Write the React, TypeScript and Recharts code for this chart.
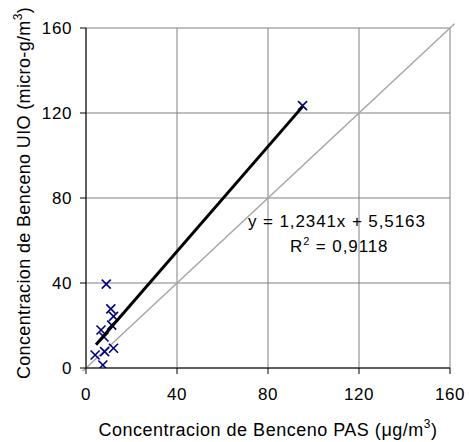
import React from 'react';
import { ScatterChart, Scatter, XAxis, YAxis, CartesianGrid, ReferenceLine, Label } from 'recharts';

const pasX = [8.9, 10.9, 12.1, 11.3, 7.9, 6.6, 4.0, 8.2, 12.1, 7.4, 95.2];
const uioY = [39.5, 27.8, 24.3, 20.2, 14.6, 17.9, 6.1, 7.7, 9.3, 1.4, 123.5];
const axisTicks = [0, 40, 80, 120, 160];
const slope = 1.2341;
const intercept = 5.5163;
const r2 = 0.9118;
const fitRangeX = [4.4, 95.2];
const identityRange = [-1.5, 162];

const points = pasX.map((x, i) => ({ x, y: uioY[i] }));
const fitLine = fitRangeX.map((x) => ({ x, y: slope * x + intercept }));
const fmt = (v: number) => v.toString().replace('.', ',');

const FONT = '"Liberation Sans", Arial, sans-serif';

const Cross = (props: any) => {
  const { cx, cy } = props;
  if (cx == null || cy == null) return <g />;
  const s = 4.5;
  return (
    <g stroke="#000080" strokeWidth={1.6}>
      <line x1={cx - s} y1={cy - s} x2={cx + s} y2={cy + s} />
      <line x1={cx - s} y1={cy + s} x2={cx + s} y2={cy - s} />
    </g>
  );
};

const NoShape = () => <g />;

const XTitle = (props: any) => {
  const vb = props.viewBox;
  const cx = vb.x + vb.width / 2;
  return (
    <text x={cx} y={436} textAnchor="middle" fontFamily={FONT} fontSize={18} letterSpacing={0.5} fill="#000">
      Concentracion de Benceno PAS (<tspan>μ</tspan>g/m
      <tspan fontSize={12} dy={-8}>3</tspan>
      <tspan dy={8}>)</tspan>
    </text>
  );
};

const YTitle = (props: any) => {
  const vb = props.viewBox;
  const cy = vb.y + vb.height / 2 - 5;
  const x = 30;
  return (
    <text x={x} y={cy} transform={`rotate(-90, ${x}, ${cy})`} textAnchor="middle" fontFamily={FONT} fontSize={18} letterSpacing={0.35} fill="#000">
      Concentracion de Benceno UIO (micro-g/m
      <tspan fontSize={12} dy={-8}>3</tspan>
      <tspan dy={8}>)</tspan>
    </text>
  );
};

const tickStyle = { fill: '#000', fontSize: 17, fontFamily: FONT, letterSpacing: 0.6 };

export default function App() {
  return (
    <div style={{ position: 'absolute', left: 0, top: 0, width: 469, height: 442, background: '#fff' }}>
      <ScatterChart width={469} height={442} margin={{ top: 28, right: 19, left: 0, bottom: 0 }}>
        <CartesianGrid stroke="#808080" strokeWidth={1} />
        <XAxis
          type="number"
          dataKey="x"
          domain={[0, 160]}
          ticks={axisTicks}
          height={74}
          tickSize={6}
          tickMargin={14}
          stroke="#000"
          tick={tickStyle}
          allowDataOverflow
        >
          <Label content={<XTitle />} />
        </XAxis>
        <YAxis
          type="number"
          dataKey="y"
          domain={[0, 160]}
          ticks={axisTicks}
          width={86}
          tickSize={6}
          tickMargin={8}
          stroke="#000"
          tick={tickStyle}
          allowDataOverflow
        >
          <Label content={<YTitle />} />
        </YAxis>
        <ReferenceLine
          segment={[
            { x: identityRange[0], y: identityRange[0] },
            { x: identityRange[1], y: identityRange[1] },
          ]}
          stroke="#a6a6a6"
          strokeWidth={1.5}
          ifOverflow="visible"
        />
        <Scatter data={points} shape={<Cross />} isAnimationActive={false} />
        <Scatter
          data={fitLine}
          line={{ stroke: '#000', strokeWidth: 3 }}
          shape={<NoShape />}
          isAnimationActive={false}
        />
      </ScatterChart>
      <svg width={469} height={442} style={{ position: 'absolute', left: 0, top: 0, pointerEvents: 'none' }}>
        <text x={248} y={227} fontFamily={FONT} fontSize={17} fill="#000" letterSpacing={0.9}>
          {`y = ${fmt(slope)}x + ${fmt(intercept)}`}
        </text>
        <text x={290} y={252} fontFamily={FONT} fontSize={17} fill="#000" letterSpacing={0.9}>
          R<tspan fontSize={11} dy={-7}>2</tspan>
          <tspan dy={7}>{` = ${fmt(r2)}`}</tspan>
        </text>
      </svg>
    </div>
  );
}
